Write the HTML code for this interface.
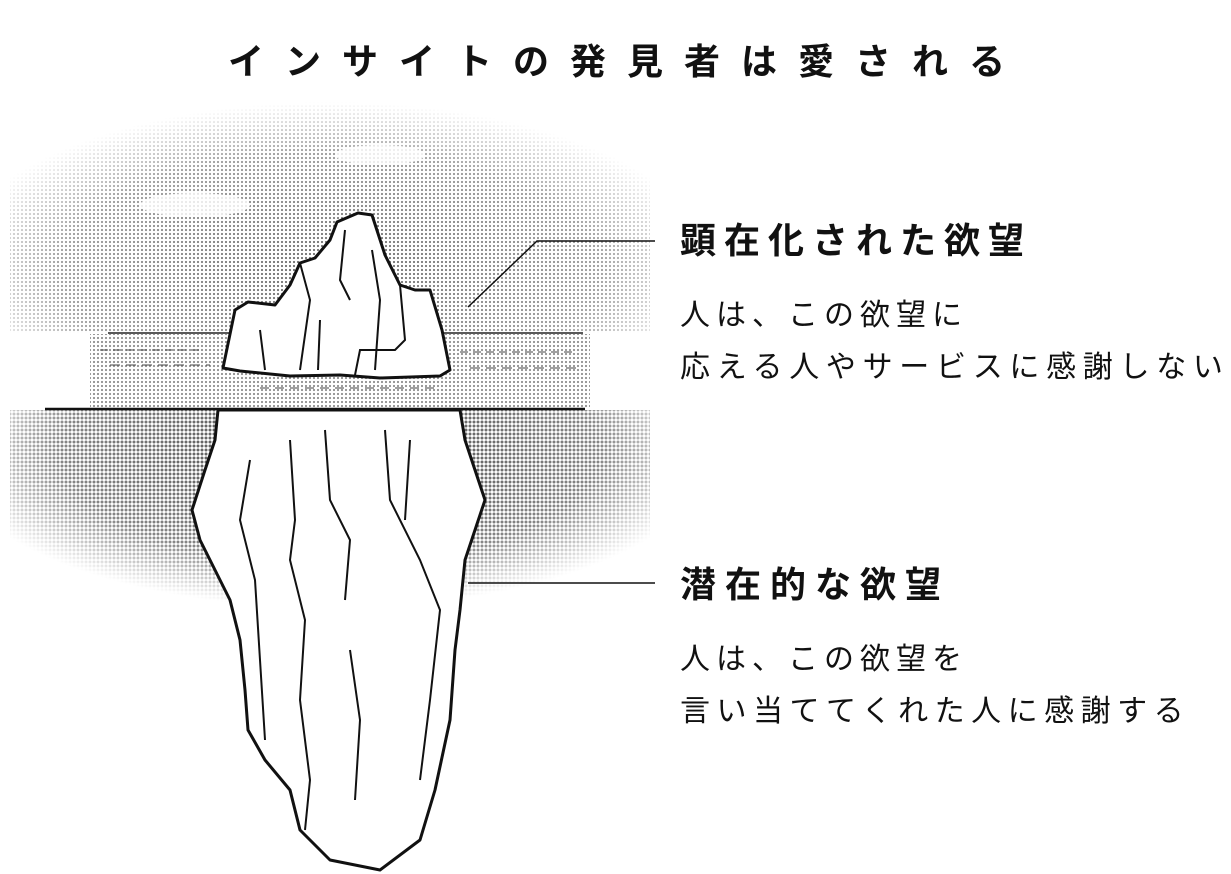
<!DOCTYPE html>
<html><head><meta charset="utf-8"><style>
html,body{margin:0;padding:0;background:#fff;}
body{width:1231px;height:874px;overflow:hidden;position:relative;font-family:"Liberation Sans","Noto Sans CJK JP",sans-serif;color:#111;}
.t{position:absolute;white-space:nowrap;line-height:1;}
</style></head><body>
<svg width="1231" height="874" style="position:absolute;left:0;top:0">
<defs>
<pattern id="d" width="4" height="4" patternUnits="userSpaceOnUse"><circle cx="2" cy="2" r="1.1" fill="#333"/></pattern>
<pattern id="d2" width="4" height="4" patternUnits="userSpaceOnUse"><circle cx="2" cy="2" r="1.5" fill="#333"/></pattern>
<radialGradient id="gs" cx="0.5" cy="0.75" r="0.6"><stop offset="0" stop-color="#fff" stop-opacity="0.75"/><stop offset="0.7" stop-color="#fff" stop-opacity="0.5"/><stop offset="1" stop-color="#fff" stop-opacity="0"/></radialGradient>
<radialGradient id="gw" cx="0.5" cy="0.2" r="0.6"><stop offset="0" stop-color="#fff" stop-opacity="0.9"/><stop offset="0.7" stop-color="#fff" stop-opacity="0.6"/><stop offset="1" stop-color="#fff" stop-opacity="0"/></radialGradient>
<mask id="ms"><rect x="10" y="60" width="640" height="280" fill="url(#gs)"/></mask>
<mask id="mw"><rect x="10" y="400" width="640" height="260" fill="url(#gw)"/></mask>
</defs>
<rect x="0" y="60" width="660" height="273" fill="url(#d)" mask="url(#ms)"/>
<rect x="90" y="334" width="500" height="74" fill="url(#d)" opacity="0.55"/>
<rect x="0" y="410" width="660" height="250" fill="url(#d2)" mask="url(#mw)"/>
<ellipse cx="380" cy="155" rx="45" ry="10" fill="#fff" opacity="0.8"/>
<ellipse cx="195" cy="205" rx="55" ry="12" fill="#fff" opacity="0.8"/>
<line x1="108" y1="333" x2="583" y2="333" stroke="#222" stroke-width="1.5"/>
<line x1="45" y1="409" x2="585" y2="409" stroke="#111" stroke-width="2.5"/>
<g stroke="#444" stroke-width="1">
<line x1="100" y1="350" x2="200" y2="350" stroke-dasharray="8 5"/>
<line x1="110" y1="365" x2="210" y2="365" stroke-dasharray="10 6"/>
<line x1="460" y1="352" x2="575" y2="352" stroke-dasharray="8 5"/>
<line x1="470" y1="368" x2="580" y2="368" stroke-dasharray="10 6"/>
<line x1="260" y1="388" x2="440" y2="388" stroke-dasharray="9 6"/>
</g>
<path d="M223,368 L235,310 L248,302 L275,305 L290,285 L300,263 L315,258 L330,240 L337,222 L358,213 L372,215 L385,255 L400,285 L415,290 L430,290 L442,330 L450,370 L440,376 L380,378 L340,375 L290,376 L240,371 Z" fill="#fff" stroke="#111" stroke-width="3" stroke-linejoin="round"/>
<g stroke="#111" stroke-width="2" fill="none">
<path d="M300,263 L310,300 L300,370"/><path d="M345,230 L340,280 L350,300"/><path d="M372,250 L380,300 L375,370"/><path d="M400,285 L405,340 L395,350 L360,350 L355,375"/><path d="M260,330 L265,370"/><path d="M320,320 L318,370"/>
</g>
<path d="M218,410 L215,440 L205,470 L192,510 L200,540 L215,570 L230,600 L240,640 L245,690 L248,730 L265,760 L290,790 L300,830 L330,860 L380,870 L420,840 L435,790 L450,720 L455,650 L460,610 L465,560 L475,530 L485,500 L475,470 L465,440 L460,410 Z" fill="#fff" stroke="#111" stroke-width="3" stroke-linejoin="round"/>
<g stroke="#111" stroke-width="2" fill="none">
<path d="M290,440 L295,520 L290,560 L305,620 L300,700 L310,780 L305,830"/><path d="M325,430 L330,500 L350,540 L345,600"/><path d="M385,430 L390,500 L420,560 L440,610 L430,700 L420,780"/><path d="M250,460 L240,520 L255,580 L260,660 L265,740"/><path d="M350,650 L360,720 L355,800"/><path d="M410,440 L405,520"/>
</g>
<polyline points="468,307 537,241 655,241" fill="none" stroke="#111" stroke-width="1.5"/>
<line x1="468" y1="583" x2="655" y2="583" stroke="#111" stroke-width="1.5"/>
</svg>
<div class="t" style="left:228px;top:44px;font-size:36px;font-weight:bold;letter-spacing:21px;">インサイトの発見者は愛される</div>
<div class="t" style="left:680px;top:223px;font-size:36px;font-weight:bold;letter-spacing:8px;">顕在化された欲望</div>
<div class="t" style="left:680px;top:301px;font-size:30px;letter-spacing:6px;">人は、この欲望に</div>
<div class="t" style="left:680px;top:353px;font-size:30px;letter-spacing:6.7px;">応える人やサービスに感謝しない</div>
<div class="t" style="left:680px;top:567px;font-size:36px;font-weight:bold;letter-spacing:9px;">潜在的な欲望</div>
<div class="t" style="left:680px;top:645px;font-size:30px;letter-spacing:6px;">人は、この欲望を</div>
<div class="t" style="left:680px;top:697px;font-size:30px;letter-spacing:6.5px;">言い当ててくれた人に感謝する</div>
</body></html>
